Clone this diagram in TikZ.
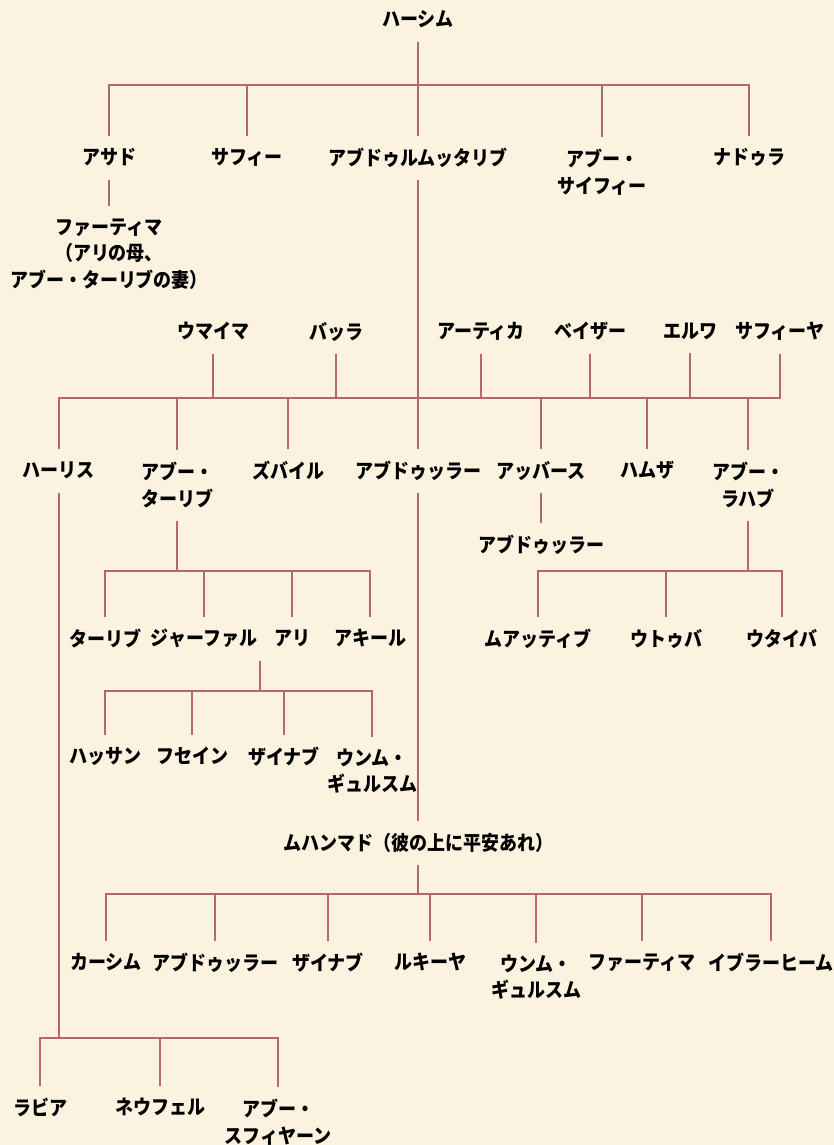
\documentclass[tikz,border=0pt]{standalone}
\usepackage{fontspec}
\newfontfamily\jpb{Noto Sans CJK JP Black}[FakeStretch=0.9]
\definecolor{bgc}{HTML}{FBF3E0}
\definecolor{linec}{HTML}{B5676A}
\newcommand\jst{\rule[-3pt]{0pt}{17pt}}
\begin{document}
\begin{tikzpicture}[x=1pt,y=-1pt,
  lbl/.style={font=\jpb\fontsize{20}{26.5}\selectfont, align=center, inner xsep=2pt, inner ysep=12pt, text=black},
  ln/.style={draw=linec, line width=2pt}]
\fill[bgc] (0,0) rectangle (834,1145);
\useasboundingbox (0,0) rectangle (834,1145);
% nodes
\node[lbl] (hashim) at (418,20) {\jst ハーシム};
\node[lbl] (asad) at (109,158) {\jst アサド};
\node[lbl] (safiya1) at (247,158) {\jst サフィー};
\node[lbl] (abdm) at (418,158) {\jst アブドゥルムッタリブ};
\node[lbl] (abusayfi) at (602,172.75) {\jst アブー・\\\jst サイフィー};
\node[lbl] (nadula) at (749,158) {\jst ナドゥラ};
\node[lbl] (fatima1) at (109,254.5) {\jst ファーティマ\\\jst （アリの母、\\\jst アブー・ターリブの妻）};
\node[lbl] (umayma) at (213,332) {\jst ウマイマ};
\node[lbl] (barra) at (336,332) {\jst バッラ};
\node[lbl] (atika) at (481,332) {\jst アーティカ};
\node[lbl] (bayza) at (590,332) {\jst ベイザー};
\node[lbl] (arwa) at (690,332) {\jst エルワ};
\node[lbl] (safiyya) at (780,332) {\jst サフィーヤ};
\node[lbl] (harith) at (59,471) {\jst ハーリス};
\node[lbl] (abutalib) at (177,485.75) {\jst アブー・\\\jst ターリブ};
\node[lbl] (zubayr) at (288,471) {\jst ズバイル};
\node[lbl] (abdullah) at (418,471) {\jst アブドゥッラー};
\node[lbl] (abbas) at (541,471) {\jst アッバース};
\node[lbl] (hamza) at (647,471) {\jst ハムザ};
\node[lbl] (abulahab) at (748,485.75) {\jst アブー・\\\jst ラハブ};
\node[lbl] (abdullah2) at (541,545) {\jst アブドゥッラー};
\node[lbl] (talib) at (105,639) {\jst ターリブ};
\node[lbl] (jafar) at (204,639) {\jst ジャーファル};
\node[lbl] (ali) at (292,639) {\jst アリ};
\node[lbl] (aqil) at (370,639) {\jst アキール};
\node[lbl] (muattib) at (538,639) {\jst ムアッティブ};
\node[lbl] (utba) at (666,639) {\jst ウトゥバ};
\node[lbl] (utayba) at (782,639) {\jst ウタイバ};
\node[lbl] (hasan) at (105,757) {\jst ハッサン};
\node[lbl] (husayn) at (192,757) {\jst フセイン};
\node[lbl] (zaynab1) at (284,757) {\jst ザイナブ};
\node[lbl] (ummk1) at (372,771.75) {\jst ウンム・\\\jst ギュルスム};
\node[lbl] (muhammad) at (418,843) {\jst ムハンマド（彼の上に平安あれ）};
\node[lbl] (qasim) at (106,963) {\jst カーシム};
\node[lbl] (abdullah3) at (215,963) {\jst アブドゥッラー};
\node[lbl] (zaynab2) at (328,963) {\jst ザイナブ};
\node[lbl] (ruqayya) at (430,963) {\jst ルキーヤ};
\node[lbl] (ummk2) at (536,977.75) {\jst ウンム・\\\jst ギュルスム};
\node[lbl] (fatima2) at (642,963) {\jst ファーティマ};
\node[lbl] (ibrahim) at (771,963) {\jst イブラーヒーム};
\node[lbl] (rabia) at (40,1108) {\jst ラビア};
\node[lbl] (nawfal) at (160,1108) {\jst ネウフェル};
\node[lbl] (abusufyan) at (278,1122.75) {\jst アブー・\\\jst スフィヤーン};
% bar coordinates
\coordinate (b1) at (418,85);
\coordinate (b2) at (418,398);
\coordinate (b3) at (177,571);
\coordinate (b4) at (260,691);
\coordinate (b5) at (748,571);
\coordinate (b6) at (418,894);
\coordinate (b7) at (59,1038);
% Hashim
\draw[ln] (hashim.south) -- (b1);
\draw[ln] (asad.north) |- (nadula.north |- b1) -- (nadula.north);
\foreach \n in {safiya1,abdm,abusayfi} \draw[ln] (\n.north) -- (\n.north |- b1);
\draw[ln] (asad.south) -- (fatima1.north);
% Abd al-Muttalib
\draw[ln] (abdm.south) -- (b2);
\draw[ln] (harith.north) |- (safiyya.south |- b2) -- (safiyya.south);
\foreach \n in {umayma,barra,atika,bayza,arwa} \draw[ln] (\n.south) -- (\n.south |- b2);
\foreach \n in {abutalib,zubayr,abdullah,abbas,hamza,abulahab} \draw[ln] (\n.north) -- (\n.north |- b2);
% Abu Talib
\draw[ln] (abutalib.south) -- (b3);
\draw[ln] (talib.north) |- (aqil.north |- b3) -- (aqil.north);
\foreach \n in {jafar,ali} \draw[ln] (\n.north) -- (\n.north |- b3);
% Ali
\draw[ln] (ali.south -| b4) -- (b4);
\draw[ln] (hasan.north) |- (ummk1.north |- b4) -- (ummk1.north);
\foreach \n in {husayn,zaynab1} \draw[ln] (\n.north) -- (\n.north |- b4);
% Abbas
\draw[ln] (abbas.south) -- (abdullah2.north);
% Abu Lahab
\draw[ln] (abulahab.south) -- (b5);
\draw[ln] (muattib.north) |- (utayba.north |- b5) -- (utayba.north);
\draw[ln] (utba.north) -- (utba.north |- b5);
% Abdullah -> Muhammad
\draw[ln] (abdullah.south) -- (muhammad.north);
\draw[ln] (muhammad.south) -- (b6);
\draw[ln] (qasim.north) |- (ibrahim.north |- b6) -- (ibrahim.north);
\foreach \n in {abdullah3,zaynab2,ruqayya,ummk2,fatima2} \draw[ln] (\n.north) -- (\n.north |- b6);
% Harith
\draw[ln] (harith.south) -- (b7);
\draw[ln] (rabia.north) |- (abusufyan.north |- b7) -- (abusufyan.north);
\draw[ln] (nawfal.north) -- (nawfal.north |- b7);
\end{tikzpicture}
\end{document}
